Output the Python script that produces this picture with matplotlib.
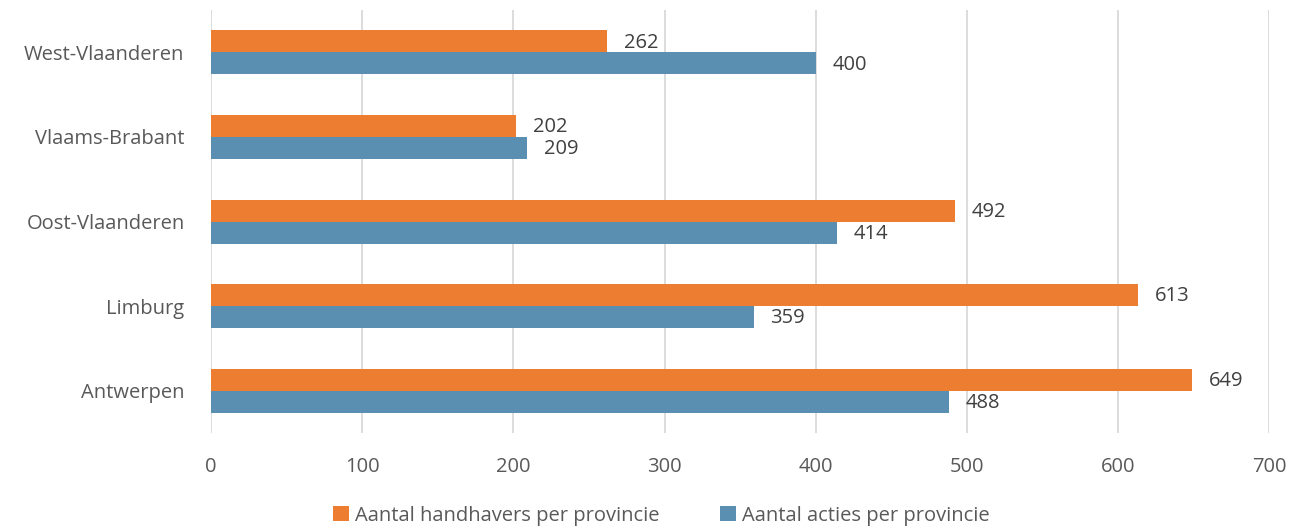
import numpy as np
from matplotlib import pyplot as plt

provinces = ["Antwerpen", "Limburg", "Oost-Vlaanderen", "Vlaams-Brabant", "West-Vlaanderen"]
handhavers = [649, 613, 492, 202, 262]
acties = [488, 359, 414, 209, 400]

orange = "#ED7D31"
blue = "#5B8FB2"
grey_text = "#595959"

plt.rcParams["font.family"] = ["Open Sans", "DejaVu Sans"]

fig = plt.figure(figsize=(12.94, 5.32), dpi=100)
ax = fig.add_axes([0.163, 0.186, 0.818, 0.795])

y = np.arange(len(provinces))
h = 0.26
b1 = ax.barh(y + h / 2, handhavers, height=h, color=orange, label="Aantal handhavers per provincie")
b2 = ax.barh(y - h / 2, acties, height=h, color=blue, label="Aantal acties per provincie")

# value labels just right of each bar
for bars in (b1, b2):
    for bar in bars:
        w = bar.get_width()
        ax.text(w + 11, bar.get_y() + bar.get_height() / 2 - 0.015, f"{int(w)}",
                va="center", ha="left", fontsize=14.5, color="#404040")

ax.set_xlim(0, 700)
ax.set_ylim(-0.5, len(provinces) - 0.5)
ax.set_xticks(range(0, 701, 100))
ax.set_yticks(y)
ax.set_yticklabels(provinces)
ax.tick_params(axis="both", length=0, labelsize=14.5, colors=grey_text)
ax.tick_params(axis="y", pad=19)
ax.tick_params(axis="x", pad=17)
ax.xaxis.grid(True, color="#D9D9D9", linewidth=1.3)
ax.set_axisbelow(True)
for s in ax.spines.values():
    s.set_visible(False)

leg = fig.legend(handles=[b1, b2], loc="lower center", ncol=2, frameon=False,
                 bbox_to_anchor=(0.511, -0.022), fontsize=14.5, handlelength=0.8,
                 handleheight=0.8, handletextpad=0.3, columnspacing=3.0)
for t in leg.get_texts():
    t.set_color(grey_text)

fig.savefig("out.png", dpi=100)
